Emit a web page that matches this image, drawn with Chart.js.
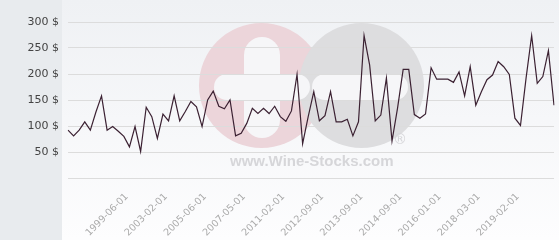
<!DOCTYPE html>
<html>
<head>
<meta charset="utf-8">
<script src="https://cdn.jsdelivr.net/npm/chart.js@4"></script>
<style>
html,body{margin:0;padding:0;background:#fff;}
#wrap{width:560px;height:240px;position:relative;}
</style>
</head>
<body>
<div id="wrap"><canvas id="c" width="560" height="240"></canvas></div>
<script>
const prices = [
  92, 81, 92, 108, 92, 127, 158, 92, 99, 90,
  80, 60, 99, 51, 136, 118, 76, 123, 110, 158,
  110, 128, 147, 137, 99, 150, 167, 138, 133, 150,
  81, 86, 105, 134, 124, 134, 124, 138, 118, 109,
  129, 199, 66, 118, 166, 110, 120, 166, 108, 108,
  113, 81, 108, 274, 217, 110, 121, 192, 71, 135,
  209, 209, 122, 115, 123, 212, 190, 190, 190, 184,
  204, 158, 214, 140, 166, 189, 198, 224, 214, 199,
  115, 101, 192, 274, 182, 195, 245, 140
];
// Visible date labels and the observation they sit under
const tickDates = ['1999-06-01','2003-02-01','2005-06-01','2007-05-01','2011-02-01','2012-09-01','2013-09-01','2014-09-01','2016-01-01','2018-03-01','2019-02-01'];
const tickIndex = [10, 17, 24, 31, 38, 45, 52, 59, 66, 73, 80];
// Y axis ticks
const yTicks = [0, 50, 100, 150, 200, 250, 300];

const labels = prices.map(() => '');
tickIndex.forEach((idx, k) => { labels[idx] = tickDates[k]; });

const bgPlugin = {
  id: 'bg',
  beforeDraw(chart) {
    const ctx = chart.ctx;
    ctx.save();
    ctx.fillStyle = '#e8ebee';
    ctx.fillRect(0, 0, 62, 240);
    const g = ctx.createLinearGradient(0, 0, 0, 240);
    g.addColorStop(0, '#eff1f4');
    g.addColorStop(1, '#fdfdfe');
    ctx.fillStyle = g;
    ctx.fillRect(62, 0, 497, 240);
    ctx.fillStyle = '#ecd5da';
    ctx.beginPath(); ctx.arc(261.5, 85.5, 62.5, 0, Math.PI * 2); ctx.fill();
    ctx.fillStyle = '#dddddf';
    ctx.beginPath(); ctx.arc(361.5, 85.5, 62.5, 0, Math.PI * 2); ctx.fill();
    ctx.fillStyle = '#f6f6f8';
    const rr = (x, y, w, h, r) => { ctx.beginPath(); ctx.roundRect(x, y, w, h, r); ctx.fill(); };
    rr(244, 37, 36, 101, 18);
    rr(214, 74, 96, 26, 13);
    rr(312, 74, 96, 26, 13);
    ctx.fillStyle = '#d6d6d9';
    ctx.font = 'bold 15px "Liberation Sans", Arial, sans-serif';
    ctx.textAlign = 'left';
    ctx.textBaseline = 'middle';
    ctx.fillText('www.Wine-Stocks.com', 230, 162);
    ctx.font = '14px "DejaVu Sans", sans-serif';
    ctx.fillText('®', 393, 140);
    ctx.restore();
  }
};

new Chart(document.getElementById('c'), {
  type: 'line',
  data: {
    labels: labels,
    datasets: [{
      data: prices,
      borderColor: '#3b2132',
      borderWidth: 1.2,
      pointRadius: 0,
      tension: 0,
      fill: false
    }]
  },
  options: {
    responsive: false,
    animation: false,
    devicePixelRatio: 1,
    layout: { padding: { top: 22, right: 6, left: 0, bottom: 0 } },
    plugins: { legend: { display: false }, tooltip: { enabled: false } },
    scales: {
      x: {
        offset: false,
        grid: { display: false, drawTicks: false },
        border: { display: false },
        afterFit: (s) => { s.height = 62; s.paddingLeft = 0; s.paddingRight = 0; },
        ticks: {
          autoSkip: false,
          maxRotation: 45,
          minRotation: 45,
          padding: 13,
          labelOffset: 3,
          color: '#a9a9a9',
          font: { family: 'DejaVu Sans', size: 9.6 }
        }
      },
      y: {
        min: 0,
        max: 300,
        afterFit: (s) => { s.width = 68; },
        afterBuildTicks: (s) => { s.ticks = yTicks.map(v => ({ value: v })); },
        grid: { color: '#dcdcdc', drawTicks: false, lineWidth: 1 },
        border: { display: false },
        ticks: {
          padding: 9,
          color: '#444',
          font: { family: 'DejaVu Sans', size: 11 },
          callback: (v) => v === 0 ? '' : v + ' $'
        }
      }
    }
  },
  plugins: [bgPlugin]
});
</script>
</body>
</html>
